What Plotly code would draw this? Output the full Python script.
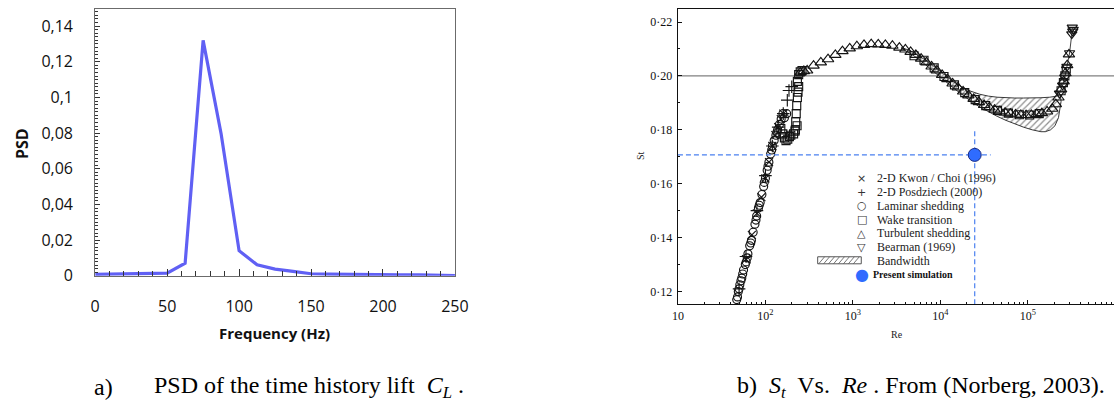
import plotly.graph_objects as go

# reference frame in which all positions below are measured
W, H = 1118, 403
# the photographed page area is slightly larger than the window, so the figure is
# laid out on a proportionally larger canvas (positions are fractions of the frame)
FIG_W, FIG_H = 1128, 416

# ---------------- panel a) : PSD of lift ----------------
freq_hz = [0, 12.5, 25, 37.5, 50, 62.5, 75, 87.5, 100, 112.5, 125, 137.5, 150,
           162.5, 175, 187.5, 200, 212.5, 225, 237.5, 250]
psd = [0.0008, 0.0010, 0.0010, 0.0010, 0.0015, 0.0071, 0.1320, 0.0797, 0.0141,
       0.0062, 0.0038, 0.0025, 0.0012, 0.0010, 0.0008, 0.0006, 0.0005, 0.0005,
       0.0005, 0.0004, 0.0002]
psd_tick_vals = [0, 0.02, 0.04, 0.06, 0.08, 0.10, 0.12, 0.14]
psd_tick_text = ["0", "0,02", "0,04", "0,06", "0,08", "0,1", "0,12", "0,14"]
freq_tick_vals = [0, 50, 100, 150, 200, 250]

# ---------------- panel b) : St vs Re (Norberg 2003) ----------------
laminar_re = [47, 48, 49, 50, 51, 52.5, 53.7, 55, 56.2, 58.9, 60.3, 62, 63.1, 66.1,
              68, 69.2, 72.4, 75.9, 78, 79.4, 83.2, 85, 87.1, 91.2, 95.5, 97, 100,
              104.7, 107, 109.6, 114.8, 118, 120.2, 125.9, 131.8, 135, 138, 144.5,
              151.4, 158.5, 165, 175]
laminar_st = [0.117, 0.118, 0.120, 0.121, 0.1225, 0.124, 0.125, 0.1265, 0.128, 0.130,
              0.131, 0.1325, 0.134, 0.137, 0.138, 0.139, 0.142, 0.145, 0.1465, 0.148,
              0.151, 0.152, 0.153, 0.156, 0.159, 0.1605, 0.162, 0.165, 0.1665, 0.168,
              0.171, 0.1725, 0.174, 0.176, 0.178, 0.179, 0.180, 0.182, 0.184, 0.186,
              0.1845, 0.186]

kwon_re = [60, 70, 80, 90, 100, 110, 120, 130, 140, 150, 160]
kwon_st = [0.132, 0.141, 0.149, 0.155, 0.162, 0.168, 0.174, 0.178, 0.181, 0.184, 0.186]

posd_re = [50, 60, 80, 100, 120, 140, 160, 178, 186, 200]
posd_st = [0.121, 0.133, 0.150, 0.163, 0.174, 0.181, 0.186, 0.191, 0.1946, 0.196]

wake_re = [150, 158, 165, 172, 180, 188, 195, 210, 218, 220, 222, 225, 228, 230, 232,
           236, 240, 232, 240, 250, 262, 5000, 6500, 8500, 11000, 14500, 19000, 25000,
           33000, 45000, 60000, 80000, 105000, 135000, 240000, 255000, 265000, 275000]
wake_st = [0.1805, 0.1785, 0.177, 0.176, 0.1765, 0.1775, 0.178, 0.1785, 0.1795, 0.180,
           0.183, 0.186, 0.189, 0.1815, 0.192, 0.194, 0.196, 0.198, 0.2005, 0.2015,
           0.2020, 0.2075, 0.2058, 0.2030, 0.1998, 0.1967, 0.1938, 0.1912, 0.1890,
           0.1872, 0.1862, 0.1856, 0.1855, 0.1860, 0.1945, 0.1975, 0.2000, 0.2025]

turb_re = [251, 275, 300, 355, 430, 520, 630, 760, 920, 1110, 1340, 1620, 1950, 2350,
           2830, 3400, 3981, 4571, 5248, 6026, 6918, 7943, 9120, 10471, 12023, 13804,
           15849, 18197, 20893, 23988, 27542, 31623, 36308, 41687, 47863, 54954, 63096,
           72444, 83176, 95499, 109648, 125893, 144544, 165959, 190546, 208930, 223872,
           239883, 257040, 269153, 281838, 295121]
turb_st = [0.2012, 0.2018, 0.2020, 0.2038, 0.2050, 0.2062, 0.2078, 0.2092, 0.2102,
           0.2110, 0.2115, 0.2118, 0.2117, 0.2115, 0.2112, 0.2105, 0.2098, 0.2089,
           0.2078, 0.2064, 0.2050, 0.2035, 0.2020, 0.2004, 0.1988, 0.1972, 0.1957,
           0.1942, 0.1928, 0.1915, 0.1903, 0.1892, 0.1883, 0.1875, 0.1869, 0.1864,
           0.1860, 0.1857, 0.1855, 0.1854, 0.1855, 0.1858, 0.1862, 0.1868, 0.1878,
           0.1895, 0.1920, 0.1950, 0.1980, 0.2010, 0.2040, 0.2080]

bearman_re = [230000, 250000, 265000, 280000, 300000, 318000, 326000, 330000, 322000]
bearman_st = [0.1935, 0.1965, 0.1995, 0.2035, 0.2085, 0.2155, 0.2165, 0.2172, 0.2180]

band_upper_re = [3548, 4467, 5623, 7079, 8913, 11220, 14125, 17783, 22387, 28184,
                 35481, 44668, 56234, 70795, 89125, 112202, 141254, 177828, 213796, 234423]
band_upper_st = [0.2105, 0.2095, 0.2075, 0.2055, 0.2030, 0.2003, 0.1978, 0.1958,
                 0.1943, 0.1932, 0.1925, 0.1921, 0.1919, 0.1918, 0.1918, 0.1918,
                 0.1919, 0.1921, 0.1925, 0.1930]
band_lower_re = [239883, 223872, 204174, 181970, 158489, 141254, 112202, 89125, 70795,
                 56234, 44668, 35481, 28184, 22387, 17783, 14125, 11220, 8913, 7079,
                 5623, 4467, 3548]
band_lower_st = [0.1905, 0.1845, 0.1815, 0.1800, 0.1793, 0.1793, 0.1800, 0.1810,
                 0.1822, 0.1835, 0.1850, 0.1866, 0.1885, 0.1906, 0.1930, 0.1955,
                 0.1982, 0.2010, 0.2038, 0.2063, 0.2085, 0.2103]

sim_re = 24700
sim_st = 0.1707
sim_h_end_re = 37600
sim_v_top_st = 0.1797
st_ref_line = 0.20

st_tick_vals = [0.12, 0.14, 0.16, 0.18, 0.20, 0.22]
st_tick_text = ["0·12", "0·14", "0·16", "0·18", "0·20", "0·22"]
re_tick_vals = [10, 1e2, 1e3, 1e4, 1e5, 1e6]
re_tick_text = ["10", "10<sup>2</sup>", "10<sup>3</sup>", "10<sup>4</sup>",
                "10<sup>5</sup>", "10<sup>6</sup>"]

legend_symbols = ["×", "+", "○", "□", "△", "▽"]
legend_labels = ["2-D Kwon / Choi (1996)", "2-D Posdziech (2000)", "Laminar shedding",
                 "Wake transition", "Turbulent shedding", "Bearman (1969)", "Bandwidth",
                 "<b>Present simulation</b>"]

# ---------------- helpers ----------------
def px(x):
    return x / W


def py(y):
    return 1 - y / H


def note(text, x, y, xanchor="center", yanchor="middle", angle=0, font=None):
    return dict(text=text, x=px(x), y=py(y), xref="paper", yref="paper",
                showarrow=False, xanchor=xanchor, yanchor=yanchor, textangle=angle,
                font=font)


SERIF = "Liberation Serif"
SANS = "Open Sans"
MK_LINE = dict(color="#141414", width=1.15)

fig = go.Figure()

# panel a
fig.add_trace(go.Scatter(x=freq_hz, y=psd, mode="lines", xaxis="x", yaxis="y",
                         line=dict(color="#6060f4", width=3.2), showlegend=False,
                         cliponaxis=False))

# panel b
fig.add_trace(go.Scatter(x=band_upper_re + band_lower_re, y=band_upper_st + band_lower_st,
                         mode="lines", fill="toself", fillcolor="white",
                         fillpattern=dict(shape="/", fgcolor="#222222", bgcolor="white",
                                          size=4.5, solidity=0.28),
                         line=dict(color="#222222", width=0.9),
                         xaxis="x2", yaxis="y2", showlegend=False))
fig.add_trace(go.Scatter(x=laminar_re, y=laminar_st, mode="markers", xaxis="x2", yaxis="y2",
                         marker=dict(symbol="circle-open", size=8, color="#141414",
                                     line=MK_LINE), showlegend=False))
fig.add_trace(go.Scatter(x=kwon_re, y=kwon_st, mode="markers", xaxis="x2", yaxis="y2",
                         marker=dict(symbol="x-thin-open", size=8, color="#141414",
                                     line=MK_LINE), showlegend=False))
fig.add_trace(go.Scatter(x=posd_re, y=posd_st, mode="markers", xaxis="x2", yaxis="y2",
                         marker=dict(symbol="cross-thin-open", size=9, color="#141414",
                                     line=MK_LINE), showlegend=False))
fig.add_trace(go.Scatter(x=wake_re, y=wake_st, mode="markers", xaxis="x2", yaxis="y2",
                         marker=dict(symbol="square-open", size=8, color="#141414",
                                     line=MK_LINE), showlegend=False))
fig.add_trace(go.Scatter(x=turb_re, y=turb_st, mode="markers", xaxis="x2", yaxis="y2",
                         marker=dict(symbol="triangle-up-open", size=10, color="#141414",
                                     line=MK_LINE), showlegend=False))
fig.add_trace(go.Scatter(x=bearman_re, y=bearman_st, mode="lines+markers", xaxis="x2",
                         yaxis="y2", line=dict(color="#141414", width=0.8),
                         marker=dict(symbol="triangle-down-open", size=9, color="#141414",
                                     line=MK_LINE), showlegend=False))
# present simulation with dashed guide lines
fig.add_trace(go.Scatter(x=[re_tick_vals[0], sim_h_end_re], y=[sim_st, sim_st], mode="lines",
                         xaxis="x2", yaxis="y2",
                         line=dict(color="#4a80f0", width=1.2, dash="5px,3px"),
                         showlegend=False))
fig.add_trace(go.Scatter(x=[sim_re, sim_re], y=[0.1153, sim_v_top_st], mode="lines",
                         xaxis="x2", yaxis="y2",
                         line=dict(color="#4a80f0", width=1.2, dash="5px,3px"),
                         showlegend=False))
fig.add_trace(go.Scatter(x=[sim_re], y=[sim_st], mode="markers", xaxis="x2", yaxis="y2",
                         marker=dict(symbol="circle", size=13, color="#2f6cff",
                                     line=dict(color="#1a2a80", width=1)),
                         showlegend=False))

fig.add_hline(y=st_ref_line, xref="x2", yref="y2", line=dict(color="#808080", width=1.2),
              layer="below")

shapes = list(fig.layout.shapes)
# legend swatch for the bandwidth
sx0, sx1, sy0, sy1 = 819, 863, 255.5, 262.5
shapes.append(dict(type="rect", xref="paper", yref="paper", x0=px(sx0), x1=px(sx1),
                   y0=py(sy1), y1=py(sy0), line=dict(color="#555555", width=1)))
for i in range(9):
    xb = sx0 + 1 + i * 5
    xt = xb + 6
    if xt > sx1 - 0.5:
        break
    shapes.append(dict(type="line", xref="paper", yref="paper", x0=px(xb), y0=py(sy1),
                       x1=px(xt), y1=py(sy0), line=dict(color="#555555", width=0.8)))

annotations = []
# axis titles
annotations.append(note("<b>PSD</b>", 16, 142.5, angle=-90,
                        font=dict(family=SANS, size=16, color="#111111")))
annotations.append(note("<b>Frequency (Hz)</b>", 271, 331,
                        font=dict(family=SANS, size=15, color="#111111")))
annotations.append(note("St", 641, 155, angle=-90,
                        font=dict(family=SERIF, size=10, color="#222222")))
annotations.append(note("Re", 899, 333, font=dict(family=SERIF, size=10, color="#222222")))
# legend
row_y = [177.5 + 13.7 * i for i in range(8)]
for i, sym in enumerate(legend_symbols):
    annotations.append(note(sym, 863.5, row_y[i],
                            font=dict(family="DejaVu Sans", size=11, color="#333333")))
for i, lab in enumerate(legend_labels[:7]):
    annotations.append(note(lab, 876.5, row_y[i], xanchor="left",
                            font=dict(family=SERIF, size=12, color="#222222")))
annotations.append(note("●", 864, row_y[7],
                        font=dict(family="DejaVu Sans", size=16, color="#2f6cff")))
annotations.append(note(legend_labels[7], 872.5, row_y[7], xanchor="left",
                        font=dict(family=SERIF, size=10, color="#111111")))
# captions
cap_font = dict(family=SERIF, size=24, color="#000000")
annotations.append(note("a)", 87, 385, xanchor="left", font=cap_font))
annotations.append(note("PSD of the time history lift  <i>C<sub>L</sub></i> .", 147, 385,
                        xanchor="left", font=cap_font))
annotations.append(note("b)  <i>S<sub>t</sub></i>  Vs.  <i>Re</i> . From (Norberg, 2003).",
                        736, 385, xanchor="left", font=cap_font))

tick_font_a = dict(family=SANS, size=16, color="#111111")
tick_font_b = dict(family=SERIF, size=12, color="#111111")

fig.update_layout(
    width=FIG_W, height=FIG_H,
    margin=dict(l=0, r=0, t=0, b=0),
    paper_bgcolor="white", plot_bgcolor="white",
    showlegend=False,
    shapes=shapes,
    annotations=annotations,
    xaxis=dict(domain=[px(90), px(453)], range=[0, 250], anchor="y",
               showline=True, mirror=True, linecolor="#6b6b6b", linewidth=1,
               showgrid=False, zeroline=False,
               tickmode="array", tickvals=freq_tick_vals, ticks="inside", ticklen=7,
               tickcolor="#333333", tickfont=tick_font_a, ticklabelstandoff=16,
               minor=dict(dtick=10, ticks="inside", ticklen=5, tickcolor="#333333")),
    yaxis=dict(domain=[py(274.5), py(9.3)], range=[0, 0.1494], anchor="x",
               showline=True, mirror=True, linecolor="#6b6b6b", linewidth=1,
               showgrid=False, zeroline=False,
               tickmode="array", tickvals=psd_tick_vals, ticktext=psd_tick_text,
               ticks="inside", ticklen=5, tickcolor="#333333", tickfont=tick_font_a,
               ticklabelstandoff=18,
               minor=dict(dtick=0.002, ticks="inside", ticklen=3, tickcolor="#333333")),
    xaxis2=dict(type="log", domain=[px(678), 1.0], range=[1, 5.985], anchor="y2",
                showline=True, mirror=True, linecolor="#111111", linewidth=1.4,
                showgrid=False, zeroline=False,
                tickmode="array", tickvals=re_tick_vals, ticktext=re_tick_text,
                ticks="inside", ticklen=4, tickcolor="#111111", tickfont=tick_font_b,
                minor=dict(dtick="D1", ticks="inside", ticklen=2.5, tickcolor="#111111")),
    yaxis2=dict(domain=[py(302.7), py(9.3)], range=[0.1153, 0.2247], anchor="x2",
                showline=True, mirror=False, linecolor="#111111", linewidth=1.4,
                showgrid=False, zeroline=False,
                tickmode="array", tickvals=st_tick_vals, ticktext=st_tick_text,
                ticks="inside", ticklen=4, tickcolor="#111111", tickfont=tick_font_b,
                ticklabelstandoff=2,
                minor=dict(dtick=0.01, ticks="inside", ticklen=2, tickcolor="#111111")),
)

# page tweaks: no default body margin and no scrollbars
page_js = ("document.documentElement.style.overflow='hidden';"
           "document.body.style.margin='0px';document.body.style.overflow='hidden';")
fig.write_html("out.html", config={"displayModeBar": False}, post_script=page_js)
